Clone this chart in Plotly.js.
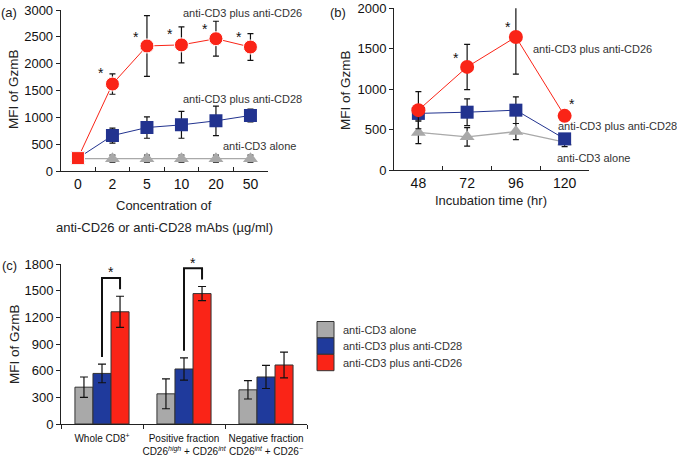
<!DOCTYPE html>
<html><head><meta charset="utf-8">
<script src="https://cdn.plot.ly/plotly-3.0.1.min.js"></script>
<style>html,body{margin:0;padding:0;background:#fff}#chart{width:677px;height:457px}</style>
</head><body><div id="chart"></div>
<script>
// ---------- data ----------
const seriesNames = ['anti-CD3 alone', 'anti-CD3 plus anti-CD28', 'anti-CD3 plus anti-CD26'];

// (a) dose response
const concA = ['0', '2', '5', '10', '20', '50'];
const aloneA = [230, 230, 230, 230, 230, 230];
const aloneAErr = [65, 65, 65, 65, 65, 65];
const cd28A = [240, 660, 810, 860, 935, 1035];
const cd28AErr = [0, 140, 200, 250, 275, 120];
const cd26A = [240, 1620, 2330, 2350, 2465, 2310];
const cd26AErr = [0, 190, 565, 335, 325, 250];
const starsAIdx = [1, 2, 3, 4, 5];
const starsAY = [1910, 2580, 2625, 2720, 2575];

// (b) time course
const timeB = ['48', '72', '96', '120'];
const aloneB = [465, 410, 475, 345];
const aloneBErr = [140, 115, 100, 55];
const cd28B = [700, 715, 740, 385];
const cd28BErr = [80, 165, 165, 65];
const cd26B = [740, 1275, 1645, 670];
const cd26BErr = [230, 280, 460, 50];
const starsBIdx = [1, 2, 3];
const starsBY = [1435, 1815, 865];

// (c) fractions
const groupsC = ['Whole CD8<sup>+</sup>',
  'Positive fraction<br>CD26<sup><i>high</i></sup> + CD26<sup><i>int</i></sup>',
  'Negative fraction<br>CD26<sup><i>int</i></sup> + CD26<sup>−</sup>'];
const aloneC = [415, 340, 385];
const aloneCErr = [115, 168, 103];
const cd28C = [570, 620, 530];
const cd28CErr = [105, 125, 130];
const cd26C = [1265, 1470, 665];
const cd26CErr = [175, 80, 145];
const sigGroupsC = [0, 1];

// ---------- style ----------
const RED = '#fa2417', BLUE = '#22338f', BLUEBAR = '#1f3a9c', GRAY = '#a9a9a9';
const FONT = 'Liberation Sans, Arial, Helvetica, sans-serif';
const W = 677, H = 457;
const px = v => v / W, py = v => 1 - v / H;

function errY(arr, w) { return {type: 'data', array: arr, visible: true, color: '#111', thickness: 1.2, width: w}; }

const traces = [];
// (a)
traces.push({x: concA, y: aloneA, xaxis: 'x', yaxis: 'y', mode: 'lines+markers', showlegend: false,
  name: seriesNames[0], line: {color: GRAY, width: 1.3},
  marker: {symbol: 'triangle-up', size: 13, color: GRAY, opacity: 1}, error_y: errY(aloneAErr, 3)});
traces.push({x: concA, y: cd28A, xaxis: 'x', yaxis: 'y', mode: 'lines+markers', showlegend: false,
  name: seriesNames[1], line: {color: BLUE, width: 1},
  marker: {symbol: 'square', size: 13, color: BLUE, opacity: 1}, error_y: errY(cd28AErr, 3)});
traces.push({x: concA, y: cd26A, xaxis: 'x', yaxis: 'y', mode: 'lines+markers', showlegend: false,
  name: seriesNames[2], line: {color: RED, width: 1},
  marker: {symbol: concA.map((c, i) => i === 0 ? 'square' : 'circle'), size: concA.map((c, i) => i === 0 ? 13 : 14),
    color: RED, opacity: 1},
  error_y: errY(cd26AErr, 3)});
// (b)
traces.push({x: timeB, y: aloneB, xaxis: 'x2', yaxis: 'y2', mode: 'lines+markers', showlegend: false, cliponaxis: false,
  name: seriesNames[0], line: {color: GRAY, width: 1.3},
  marker: {symbol: 'triangle-up', size: 13, color: GRAY, opacity: 1}, error_y: errY(aloneBErr, 3)});
traces.push({x: timeB, y: cd28B, xaxis: 'x2', yaxis: 'y2', mode: 'lines+markers', showlegend: false, cliponaxis: false,
  name: seriesNames[1], line: {color: BLUE, width: 1},
  marker: {symbol: 'square', size: 13, color: BLUE, opacity: 1}, error_y: errY(cd28BErr, 3)});
traces.push({x: timeB, y: cd26B, xaxis: 'x2', yaxis: 'y2', mode: 'lines+markers', showlegend: false, cliponaxis: false,
  name: seriesNames[2], line: {color: RED, width: 1},
  marker: {symbol: 'circle', size: 14, color: RED, opacity: 1}, error_y: errY(cd26BErr, 3)});
// (c)
const barColors = [GRAY, BLUEBAR, RED];
[[aloneC, aloneCErr], [cd28C, cd28CErr], [cd26C, cd26CErr]].forEach((s, i) => {
  traces.push({type: 'bar', x: groupsC, y: s[0], xaxis: 'x3', yaxis: 'y3', name: seriesNames[i], showlegend: false,
    marker: {color: barColors[i], line: {color: '#333', width: 1}}, error_y: errY(s[1], 4)});
});

// ---------- layout ----------
const tickFont = {family: FONT, size: 13, color: '#111'};
const axBase = {showgrid: false, zeroline: false, showline: true, linecolor: '#222', linewidth: 1,
  tickcolor: '#222', tickfont: tickFont, fixedrange: true};

const annotations = [];
const shapes = [];
function txt(x, y, text, opt) {
  annotations.push(Object.assign({x: x, y: y, xref: 'paper', yref: 'paper', text: text, showarrow: false,
    font: {family: FONT, size: 13, color: '#222'}, xanchor: 'center', yanchor: 'middle'}, opt || {}));
}
// panel labels
txt(px(9), py(12), '(a)');
txt(px(338), py(12), '(b)');
txt(px(9), py(265), '(c)');
// axis titles
const titleFont = {family: FONT, size: 13.5, color: '#222'};
txt(px(14), py(89), 'MFI of GzmB', {textangle: -90, font: titleFont});
txt(px(345), py(90), 'MFI of GzmB', {textangle: -90, font: titleFont});
txt(px(14), py(344), 'MFI of GzmB', {textangle: -90, font: titleFont});
txt(px(164), py(205), 'Concentration of');
txt(px(164), py(227), 'anti-CD26 or anti-CD28 mAbs (µg/ml)');
txt(px(491), py(200), 'Incubation time (hr)');
// series labels (a)
const lblFont = {family: FONT, size: 11, color: '#333'};
txt(px(304), py(13), seriesNames[2], {xanchor: 'right', font: lblFont});
txt(px(304), py(99), seriesNames[1], {xanchor: 'right', font: lblFont});
txt(px(298), py(146), seriesNames[0], {xanchor: 'right', font: lblFont});
// series labels (b)
txt(px(531), py(49), seriesNames[2], {xanchor: 'left', font: lblFont});
txt(px(556), py(126), seriesNames[1], {xanchor: 'left', font: lblFont});
txt(px(555), py(158), seriesNames[0], {xanchor: 'left', font: lblFont});
// stars
const starFont = {family: FONT, size: 14, color: '#111'};
starsAIdx.forEach((idx, i) => annotations.push({x: idx - 0.32, y: starsAY[i], xref: 'x', yref: 'y', text: '*',
  showarrow: false, font: starFont, yshift: -4}));
const starsBOff = [-0.23, -0.17, 0.15];
starsBIdx.forEach((idx, i) => annotations.push({x: idx + starsBOff[i], y: starsBY[i], xref: 'x2', yref: 'y2', text: '*',
  showarrow: false, font: starFont, yshift: -4}));

// significance brackets (c)
const bargapC = 0.34, barW = (1 - bargapC) / 3;
const y3dom = [py(424), py(264.3)], y3max = 1800;
const y3paper = v => y3dom[0] + v / y3max * (y3dom[1] - y3dom[0]);
sigGroupsC.forEach(g => {
  const xl = g, xr = g + barW;
  const top = cd26C[g] + cd26CErr[g] + 205;
  const leftBottom = cd28C[g] + cd28CErr[g] + 80;
  const rightBottom = cd26C[g] + cd26CErr[g] + 80;
  shapes.push({type: 'path', xref: 'x3', yref: 'paper',
    path: `M ${xl} ${y3paper(leftBottom)} L ${xl} ${y3paper(top)} L ${xr} ${y3paper(top)} L ${xr} ${y3paper(rightBottom)}`,
    line: {color: '#111', width: 2}});
  annotations.push({x: (xl + xr) / 2, y: y3paper(top + 110), xref: 'x3', yref: 'paper', text: '*', showarrow: false,
    font: starFont, yshift: -4});
});

// legend (c), drawn as swatches + labels
const legX0 = 317, legX1 = 334, legY0 = 321.5, legH = 16.4;
seriesNames.forEach((n, i) => {
  shapes.push({type: 'rect', xref: 'paper', yref: 'paper', x0: px(legX0), x1: px(legX1),
    y0: py(legY0 + i * legH), y1: py(legY0 + (i + 1) * legH), fillcolor: barColors[i], line: {color: '#333', width: 1}});
  txt(px(341), py(legY0 + (i + 0.5) * legH), n, {xanchor: 'left', font: {family: FONT, size: 11, color: '#333'}});
});

const layout = {
  width: W, height: H, margin: {l: 0, r: 0, t: 0, b: 0}, paper_bgcolor: '#fff', plot_bgcolor: 'rgba(0,0,0,0)',
  font: {family: FONT, color: '#222'}, bargap: bargapC, bargroupgap: 0, barmode: 'group', showlegend: false,
  xaxis: Object.assign({}, axBase, {domain: [px(60.7), px(267.7)], anchor: 'y', type: 'category',
    range: [-0.5, 5.5], ticks: 'inside', ticklen: 4, tickson: 'boundaries', tickfont: {family: FONT, size: 14, color: '#111'}}),
  yaxis: Object.assign({}, axBase, {domain: [py(171), py(10)], anchor: 'x', range: [0, 3000], dtick: 500,
    ticks: 'outside', ticklen: 4}),
  xaxis2: Object.assign({}, axBase, {domain: [px(394), px(589)], anchor: 'y2', type: 'category',
    range: [-0.5, 3.5], ticks: 'inside', ticklen: 4, tickson: 'boundaries', tickfont: {family: FONT, size: 14, color: '#111'}}),
  yaxis2: Object.assign({}, axBase, {domain: [py(170), py(8.3)], anchor: 'x2', range: [0, 2000], dtick: 500,
    ticks: 'outside', ticklen: 4}),
  xaxis3: Object.assign({}, axBase, {domain: [px(61), px(307)], anchor: 'y3', type: 'category',
    range: [-0.5, 2.5], ticks: 'outside', ticklen: 4, tickson: 'boundaries', tickangle: 0, ticklabelstandoff: 5,
    tickfont: {family: FONT, size: 10, color: '#111'}}),
  yaxis3: Object.assign({}, axBase, {domain: y3dom, anchor: 'x3', range: [0, y3max], dtick: 300,
    ticks: 'outside', ticklen: 4}),
  annotations: annotations, shapes: shapes
};

Plotly.newPlot('chart', traces, layout, {displayModeBar: false, staticPlot: true});
</script></body></html>
